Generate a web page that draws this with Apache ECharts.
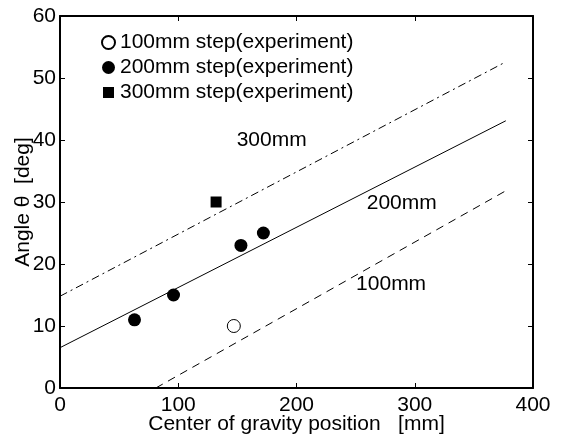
<!DOCTYPE html>
<html>
<head>
<meta charset="utf-8">
<script src="https://cdn.jsdelivr.net/npm/echarts@6/dist/echarts.min.js"></script>
<style>
html,body{margin:0;padding:0;background:#fff;}
#chart{width:562px;height:439px;}
</style>
</head>
<body>
<div id="chart"></div>
<script>
// ---- data ----
var xTicks = [0, 100, 200, 300, 400];
var yTicks = [0, 10, 20, 30, 40, 50, 60];
var step100Exp = [[147, 10]];
var step200Exp = [[63, 11], [96, 15], [153, 23], [172, 25]];
var step300Exp = [[132, 30]];
var line200 = [[0, 6.5], [377, 43.1]];
var line300 = [[0, 14.8], [375, 52.4]];
var line100 = [[81, 0], [376, 31.7]];
var lineLabelNames = ['300mm', '200mm', '100mm'];
var lineLabelAnchors = [[179, 40], [289, 29.8], [280, 16.8]];
var seriesNames = ['100mm step(experiment)', '200mm step(experiment)', '300mm step(experiment)'];

var FONT = "'Liberation Sans', Arial, sans-serif";
var FS = 21;
var chart = echarts.init(document.getElementById('chart'), null, {renderer: 'canvas'});

function axisBase(extra) {
  var a = {
    type: 'value',
    nameMoveOverlap: false,
    axisLine: {show: true, onZero: false, lineStyle: {color: '#000', width: 2}},
    axisTick: {show: true, inside: true, length: 5, lineStyle: {color: '#000', width: 1}},
    splitLine: {show: false},
    axisLabel: {show: true, color: '#000', fontSize: FS, fontFamily: FONT}
  };
  for (var k in extra) a[k] = extra[k];
  return a;
}

var option = {
  animation: false,
  backgroundColor: '#fff',
  textStyle: {fontFamily: FONT},
  grid: {left: 60, right: 29, top: 16, bottom: 51, containLabel: false, outerBoundsMode: 'none'},
  legend: {
    orient: 'vertical',
    left: 96,
    top: 27,
    itemWidth: 13,
    itemHeight: 13,
    itemGap: 4,
    textStyle: {fontSize: FS, color: '#000', fontFamily: FONT},
    data: [
      {name: seriesNames[0], icon: 'circle'},
      {name: seriesNames[1], icon: 'circle'},
      {name: seriesNames[2], icon: 'path://M0,0L0,0M13,13L13,13M1,1L12,1L12,12L1,12Z'}
    ]
  },
  xAxis: [
    axisBase({
      position: 'bottom', min: xTicks[0], max: xTicks[xTicks.length - 1], interval: 100,
      name: 'Center of gravity position   [mm]', nameLocation: 'middle', nameGap: 26,
      nameTextStyle: {fontSize: FS, color: '#000', fontFamily: FONT},
      axisLabel: {show: true, color: '#000', fontSize: FS, fontFamily: FONT, margin: 7}
    }),
    axisBase({
      position: 'top', min: xTicks[0], max: xTicks[xTicks.length - 1], interval: 100,
      axisLabel: {show: false}
    })
  ],
  yAxis: [
    axisBase({
      position: 'left', min: yTicks[0], max: yTicks[yTicks.length - 1], interval: 10,
      name: 'Angle \u03b8  [deg]', nameLocation: 'middle', nameGap: 26, nameRotate: 90,
      nameTextStyle: {fontSize: FS, color: '#000', fontFamily: FONT},
      axisLabel: {show: true, color: '#000', fontSize: FS, fontFamily: FONT, margin: 4}
    }),
    axisBase({
      position: 'right', min: yTicks[0], max: yTicks[yTicks.length - 1], interval: 10,
      axisLabel: {show: false}
    })
  ],
  series: [
    {
      type: 'line', name: 'line200', data: line200, symbol: 'none', silent: true,
      lineStyle: {color: '#000', width: 1, type: 'solid'}
    },
    {
      type: 'line', name: 'line300', data: line300, symbol: 'none', silent: true,
      lineStyle: {color: '#000', width: 1, type: [8, 4, 2, 4]}
    },
    {
      type: 'line', name: 'line100', data: line100, symbol: 'none', silent: true,
      lineStyle: {color: '#000', width: 1, type: [8, 6]}
    },
    {
      type: 'scatter', name: seriesNames[0], data: step100Exp, symbol: 'circle', symbolSize: 13,
      itemStyle: {color: '#fff', borderColor: '#000', borderWidth: 1, opacity: 1}
    },
    {
      type: 'scatter', name: seriesNames[1], data: step200Exp, symbol: 'circle', symbolSize: 13,
      itemStyle: {color: '#000', opacity: 1}
    },
    {
      type: 'scatter', name: seriesNames[2], data: step300Exp, symbol: 'rect', symbolSize: 11,
      itemStyle: {color: '#000', opacity: 1}
    },
    {
      type: 'scatter', name: 'labels', symbolSize: 0, silent: true,
      itemStyle: {opacity: 1, color: '#000'},
      data: lineLabelNames.map(function (n, i) { return {name: n, value: lineLabelAnchors[i]}; }),
      label: {
        show: true, position: 'inside', formatter: '{b}', opacity: 1,
        color: '#000', fontSize: FS, fontFamily: FONT
      }
    }
  ]
};
chart.setOption(option);
</script>
</body>
</html>
